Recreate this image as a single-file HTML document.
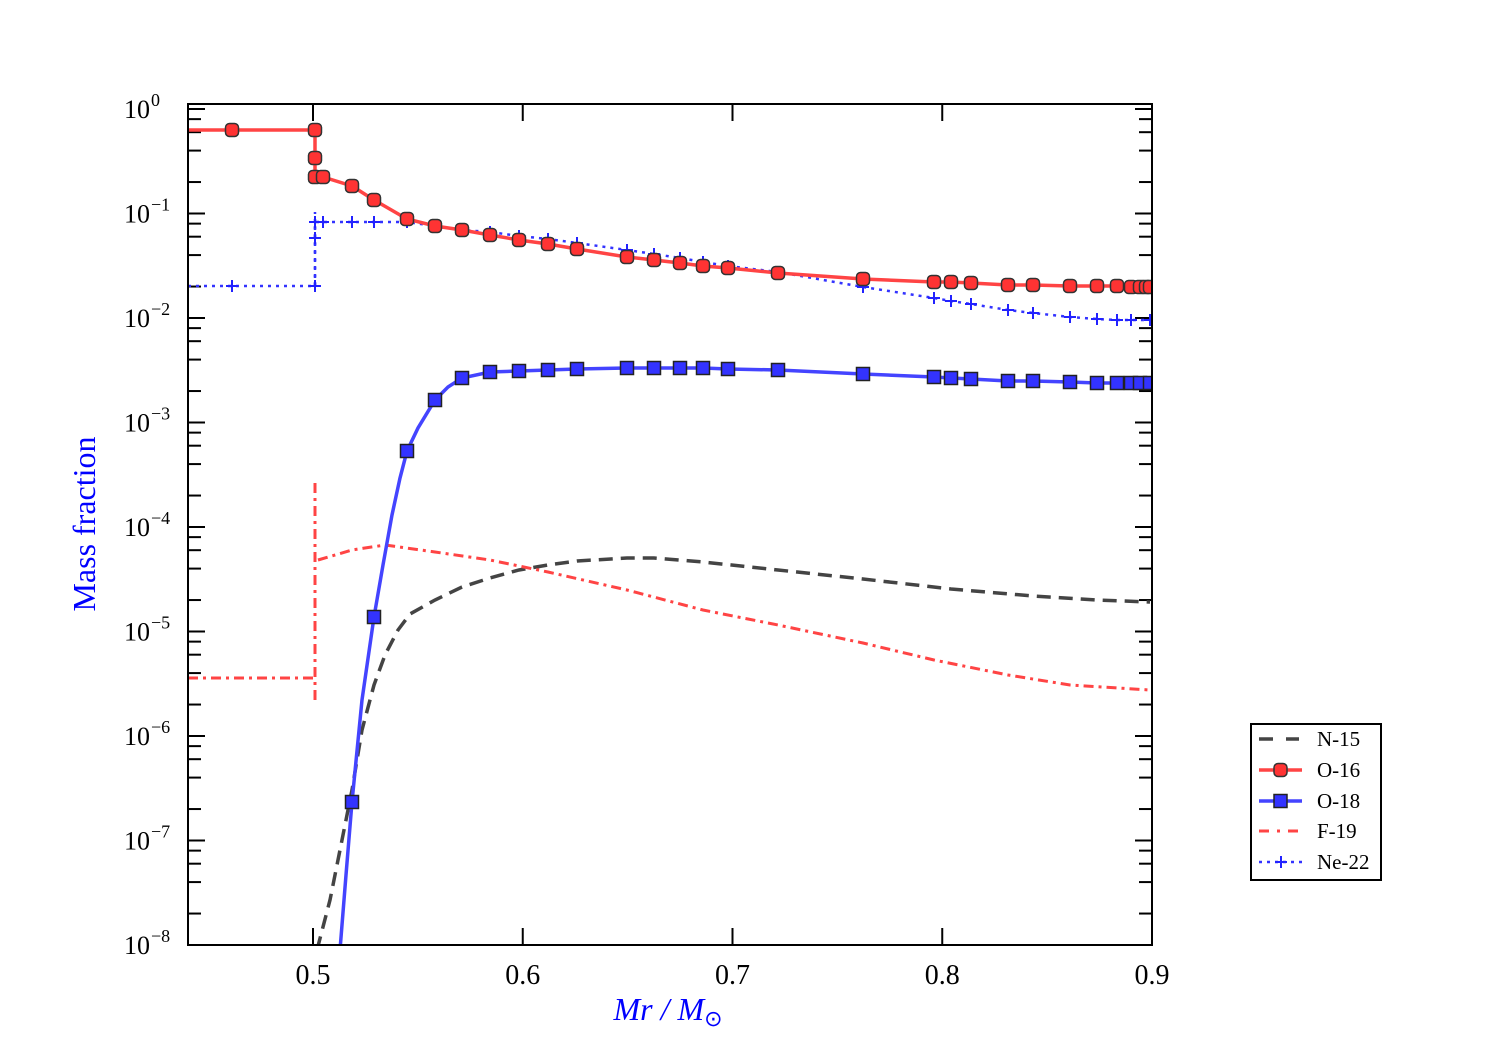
<!DOCTYPE html>
<html><head><meta charset="utf-8"><style>
html,body{margin:0;padding:0;background:#fff;}
svg{display:block;font-family:"Liberation Serif",serif;}
</style></head><body>
<svg id="s" width="1500" height="1050" xmlns="http://www.w3.org/2000/svg"></svg>
<script>
const s=document.getElementById('s');
let h='';
const L=188,R=1152,T=104,B=945;
function Y(e){return 109+104.5*e;}
function X(m){return 313+(m-0.5)*2097.5;}
h+=`<defs><clipPath id="c"><rect x="${L}" y="${T}" width="${R-L}" height="${B-T}"/></clipPath></defs>`;
for(let e=0;e<=8;e++){const y=Y(e);
 h+=`<line x1="${L}" y1="${y}" x2="${L+17}" y2="${y}" stroke="#000" stroke-width="2"/><line x1="${R}" y1="${y}" x2="${R-17}" y2="${y}" stroke="#000" stroke-width="2"/>`;
 h+=`<text x="150" y="${y+9}" font-size="26" text-anchor="end">10</text><text x="151" y="${y-3}" font-size="18">${e==0?'0':'\u2212'+e}</text>`;
 for(const k of [2,4,6,8]){const yy=Y(e+1-Math.log10(k));
  if(yy<T||yy>B)continue;
  h+=`<line x1="${L}" y1="${yy}" x2="${L+13}" y2="${yy}" stroke="#000" stroke-width="2"/><line x1="${R}" y1="${yy}" x2="${R-13}" y2="${yy}" stroke="#000" stroke-width="2"/>`;}
}
for(const k of [2,4,6,8]){const yy=Y(-Math.log10(k));if(yy>T){h+=`<line x1="${L}" y1="${yy}" x2="${L+13}" y2="${yy}" stroke="#000" stroke-width="2"/><line x1="${R}" y1="${yy}" x2="${R-13}" y2="${yy}" stroke="#000" stroke-width="2"/>`;}}
for(const m of [0.5,0.6,0.7,0.8,0.9]){const x=X(m);
 h+=`<line x1="${x}" y1="${T}" x2="${x}" y2="${T+17}" stroke="#000" stroke-width="2"/><line x1="${x}" y1="${B}" x2="${x}" y2="${B-17}" stroke="#000" stroke-width="2"/>`;
 h+=`<text x="${x}" y="984" font-size="28" text-anchor="middle">${m.toFixed(1)}</text>`;}
const pts=a=>a.map(p=>p.join(',')).join(' ');
const o16=[[232,130],[315,130],[315,158],[315,177],[323,177],[352,186],[374,200],[407,219],[435,226],[462,230],[490,235],[519,240],[548,244],[577,249],[627,257],[654,260],[680,263],[703,266],[728,268],[778,273],[863,279],[934,282],[951,282],[971,283],[1008,285],[1033,285],[1070,286],[1097,286],[1117,286],[1131,287],[1140,287],[1146,287],[1150,287]];
const ne=[[232,286],[315,286],[315,238],[315,222],[323,222],[352,222],[374,222],[407,222],[435,226],[462,230],[490,232],[519,236],[548,239],[577,243],[627,250],[654,254],[680,258],[703,262],[728,266],[778,272],[863,287],[934,298],[951,301],[971,304],[1008,310],[1033,313],[1070,317],[1097,319],[1117,320],[1131,320],[1150,320]];
const o18=[[352,802],[374,617],[407,451],[435,400],[462,378],[490,372],[519,371],[548,370],[577,369],[627,368],[654,368],[680,368],[703,368],[728,369],[778,370],[863,374],[934,377],[951,378],[971,379],[1008,381],[1033,381],[1070,382],[1097,383],[1117,383],[1131,383],[1140,383],[1150,383]];
const o18l=[[340,950],[346,875],[352,802],[362,700],[374,617],[383,565],[392,515],[400,478],[407,451],[418,428],[435,400],[448,387],[462,378]].concat(o18.slice(5));
const n15=[[317,950],[330,900],[340,850],[352,790],[362,730],[374,685],[385,655],[398,630],[410,614],[435,600],[462,587],[490,578],[519,570],[548,565],[577,561],[627,558],[654,558],[703,562],[778,570],[863,579],[951,589],[1033,596],[1097,600],[1150,602]];
const f19=[[318,560],[352,550],[385,545],[435,552],[490,560],[548,572],[627,590],[703,610],[778,625],[863,643],[934,660],[1008,675],[1070,685],[1150,690]];
h+=`<g clip-path="url(#c)">`;
h+=`<polyline points="${pts(n15)}" fill="none" stroke="#444" stroke-width="3.5" stroke-dasharray="14,8"/>`;
h+=`<polyline points="188,678 315,678" fill="none" stroke="#ff4444" stroke-width="3" stroke-dasharray="10,5,3,5"/>`;
h+=`<line x1="315" y1="700" x2="315" y2="478" stroke="#ff4444" stroke-width="3" stroke-dasharray="10,5,3,5"/>`;
h+=`<polyline points="${pts(f19)}" fill="none" stroke="#ff4444" stroke-width="3" stroke-dasharray="10,5,3,5"/>`;
h+=`<polyline points="188,286 ${pts(ne)}" fill="none" stroke="#3333ff" stroke-width="2.5" stroke-dasharray="3,5"/>`;
h+=`<line x1="315" y1="286" x2="315" y2="212" stroke="#3333ff" stroke-width="2.5" stroke-dasharray="3,5"/>`;
ne.forEach(p=>h+=`<path d="M${p[0]-6},${p[1]}h12M${p[0]},${p[1]-6}v12" stroke="#2222ff" stroke-width="2"/>`);
h+=`<polyline points="${pts(o18l)}" fill="none" stroke="#4444ff" stroke-width="3.5"/>`;
o18.forEach(p=>h+=`<rect x="${p[0]-6.5}" y="${p[1]-6.5}" width="13" height="13" fill="#3333ff" stroke="#222" stroke-width="1.5"/>`);
h+=`<polyline points="188,130 ${pts(o16)}" fill="none" stroke="#ff4444" stroke-width="3.5"/>`;
o16.forEach(p=>h+=`<rect x="${p[0]-6.5}" y="${p[1]-6.5}" width="13" height="13" rx="4" fill="#ff3333" stroke="#333" stroke-width="1.5"/>`);
h+=`</g>`;
h+=`<rect x="${L}" y="${T}" width="${R-L}" height="${B-T}" fill="none" stroke="#000" stroke-width="2"/>`;
h+=`<text transform="translate(95,524) rotate(-90)" font-size="32" fill="#0000ff" text-anchor="middle">Mass fraction</text>`;
h+=`<text x="668" y="1020" font-size="32" fill="#0000ff" text-anchor="middle" font-style="italic">Mr / M<tspan font-style="normal" font-size="22" dy="6">⊙</tspan></text>`;
h+=`<rect x="1251" y="724" width="130" height="156" fill="#fff" stroke="#000" stroke-width="2"/>`;
const ly=[739,770,801,831,862],nm=['N-15','O-16','O-18','F-19','Ne-22'];
h+=`<line x1="1259" y1="${ly[0]}" x2="1299" y2="${ly[0]}" stroke="#444" stroke-width="3.5" stroke-dasharray="14,13"/>`;
h+=`<line x1="1259" y1="${ly[1]}" x2="1302" y2="${ly[1]}" stroke="#ff4444" stroke-width="3.5"/><rect x="1274" y="${ly[1]-6.5}" width="13" height="13" rx="4" fill="#ff3333" stroke="#333" stroke-width="1.5"/>`;
h+=`<line x1="1259" y1="${ly[2]}" x2="1302" y2="${ly[2]}" stroke="#4444ff" stroke-width="3.5"/><rect x="1274" y="${ly[2]-6.5}" width="13" height="13" fill="#3333ff" stroke="#222" stroke-width="1.5"/>`;
h+=`<line x1="1259" y1="${ly[3]}" x2="1302" y2="${ly[3]}" stroke="#ff4444" stroke-width="3" stroke-dasharray="10,8,3,8"/>`;
h+=`<line x1="1259" y1="${ly[4]}" x2="1302" y2="${ly[4]}" stroke="#3333ff" stroke-width="2.5" stroke-dasharray="3,5"/><path d="M1275,${ly[4]}h12M1281,${ly[4]-6}v12" stroke="#2222ff" stroke-width="2"/>`;
nm.forEach((n,i)=>h+=`<text x="1317" y="${ly[i]+7}" font-size="21">${n}</text>`);
s.innerHTML=h;
</script>
</body></html>
